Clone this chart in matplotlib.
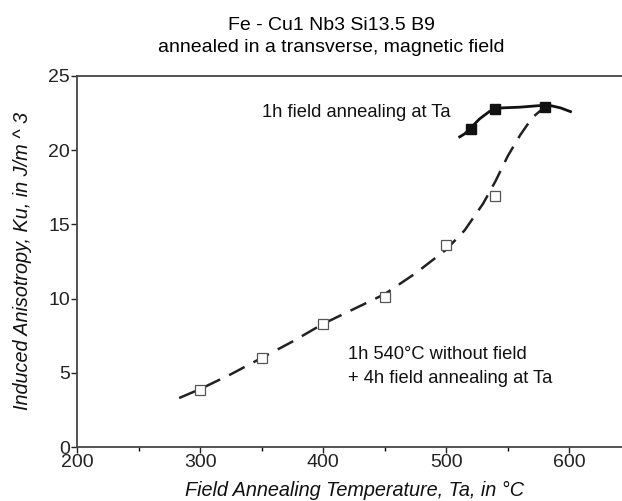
import matplotlib
matplotlib.use("Agg")
import matplotlib.pyplot as plt

plt.rcParams['font.family'] = ['Liberation Sans', 'DejaVu Sans']

# open squares: 1h 540C without field + 4h field annealing at Ta
ta_open = [300, 350, 400, 450, 500, 540]
ku_open = [3.85, 6.0, 8.3, 10.1, 13.6, 16.9]

# filled squares: 1h field annealing at Ta
ta_fill = [520, 540, 580]
ku_fill = [21.4, 22.8, 22.9]

# hand drawn curves
curve_dash_x = [283, 300, 325, 350, 375, 400, 425, 450, 475, 500, 515, 530, 540, 550, 560, 570, 580]
curve_dash_y = [3.3, 3.9, 4.9, 6.0, 7.1, 8.3, 9.3, 10.3, 11.7, 13.3, 14.6, 16.4, 17.9, 19.6, 21.0, 22.2, 22.9]
curve_solid_x = [511, 515, 520, 527, 535, 545, 560, 575, 585, 593, 601]
curve_solid_y = [20.9, 21.1, 21.5, 22.1, 22.6, 22.85, 22.9, 23.0, 23.0, 22.85, 22.6]

fig = plt.figure(figsize=(6.22, 5.01), dpi=100)
ax = fig.add_axes([77 / 622, 54 / 501, 555 / 622, 371 / 501])

ax.plot(curve_dash_x, curve_dash_y, color='#222222', lw=1.8, dashes=(7, 4))
ax.plot(curve_solid_x, curve_solid_y, color='#111111', lw=2.0)
ax.plot(ta_open, ku_open, 's', ms=6.5, mfc='white', mec='#555555', mew=0.9)
ax.plot(ta_fill, ku_fill, 's', ms=6.5, mfc='#111111', mec='#111111')

ax.set_xlim(200, 651)
ax.set_ylim(0, 25)
ax.set_xticks([200, 300, 400, 500, 600])
ax.set_xticks([250, 350, 450, 550], minor=True)
ax.set_yticks([0, 5, 10, 15, 20, 25])
ax.tick_params(axis='both', direction='out', length=4, width=1, labelsize=14, pad=1, colors='#222222')
ax.tick_params(axis='x', which='minor', direction='out', length=3, width=1)
for s in ax.spines.values():
    s.set_color('#444444')
    s.set_linewidth(1.3)

ax.text(350, 22.24, '1h field annealing at Ta', fontsize=13.2, va='baseline', ha='left', color='#111111')
ax.text(420, 5.93, '1h 540°C without field', fontsize=13.2, va='baseline', ha='left', color='#111111')
ax.text(420, 4.31, '+ 4h field annealing at Ta', fontsize=13.2, va='baseline', ha='left', color='#111111')

ax.set_xlabel('Field Annealing Temperature, Ta, in °C', fontsize=14.3, style='italic', color='#111111', va='center')
ax.set_ylabel('Induced Anisotropy, Ku, in J/m ^ 3', fontsize=14.3, style='italic', color='#111111', va='center')
ax.xaxis.set_label_coords(0.5, (447 - 490) / 371)
ax.yaxis.set_label_coords((23 - 77) / 555, 0.5)

fig.text(331 / 622, 1 - 30 / 501, 'Fe - Cu1 Nb3 Si13.5 B9', ha='center', va='baseline', fontsize=14)
fig.text(331 / 622, 1 - 52 / 501, 'annealed in a transverse, magnetic field', ha='center', va='baseline', fontsize=14)

fig.savefig('out.png', dpi=100)
